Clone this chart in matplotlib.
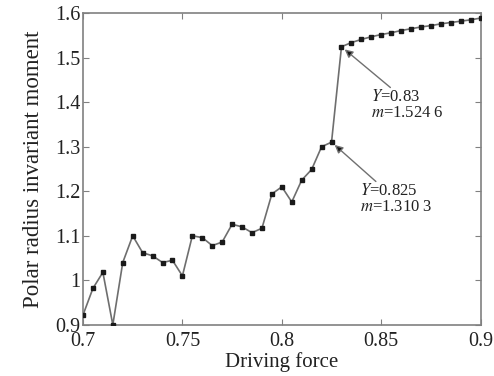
import matplotlib
matplotlib.use('Agg')
import matplotlib.pyplot as plt

# driving force (x) and polar radius invariant moment (y)
force = [0.700, 0.705, 0.710, 0.715, 0.720, 0.725, 0.730, 0.735, 0.740, 0.745,
         0.750, 0.755, 0.760, 0.765, 0.770, 0.775, 0.780, 0.785, 0.790, 0.795,
         0.800, 0.805, 0.810, 0.815, 0.820, 0.825, 0.830, 0.835, 0.840, 0.845,
         0.850, 0.855, 0.860, 0.865, 0.870, 0.875, 0.880, 0.885, 0.890, 0.895,
         0.900]
moment = [0.922, 0.982, 1.018, 0.900, 1.040, 1.100, 1.062, 1.055, 1.040, 1.045,
          1.010, 1.100, 1.096, 1.078, 1.086, 1.126, 1.120, 1.107, 1.117, 1.194,
          1.210, 1.176, 1.225, 1.249, 1.300, 1.3103, 1.5246, 1.534, 1.541, 1.547,
          1.552, 1.556, 1.561, 1.565, 1.569, 1.572, 1.576, 1.579, 1.582, 1.585,
          1.589]

xticks = [0.7, 0.75, 0.8, 0.85, 0.9]
xticklabels = ['0.7', '0.75', '0.8', '0.85', '0.9']
yticks = [0.9, 1.0, 1.1, 1.2, 1.3, 1.4, 1.5, 1.6]
yticklabels = ['0.9', '1', '1.1', '1.2', '1.3', '1.4', '1.5', '1.6']

plt.rcParams['font.family'] = ['Liberation Serif', 'DejaVu Serif']
plt.rcParams['mathtext.fontset'] = 'stix'

fig = plt.figure(figsize=(4.94, 3.76), dpi=100)
ax = fig.add_axes([0.168, 0.136, 0.805, 0.829])

ax.plot(force, moment, '-', color='#6e6e6e', lw=1.2, zorder=2)
ax.plot(force, moment, 's', color='#1a1a1a', ms=3.0, mec='#1a1a1a', zorder=3)

ax.set_xlim(0.7, 0.9)
ax.set_ylim(0.9, 1.6)
ax.set_xticks(xticks)
ax.set_xticklabels(xticklabels)
ax.set_yticks(yticks)
ax.set_yticklabels(yticklabels)
ax.tick_params(direction='in', top=True, right=True, length=4, width=0.8,
               color='#808080', labelsize=14.5, labelcolor='#222222')
ax.tick_params(axis='x', pad=5)
ax.tick_params(axis='y', pad=2)
for s in ax.spines.values():
    s.set_color('#808080')
    s.set_linewidth(1.2)

ax.set_xlabel('Driving force', fontsize=15, color='#222222', labelpad=1)
ax.set_ylabel('Polar radius invariant moment', fontsize=16.5, color='#222222', labelpad=8)

arrow = dict(arrowstyle='-|>', ec='#707070', fc='#111111', lw=1.0,
             mutation_scale=12, shrinkA=0, shrinkB=3)
ax.annotate('', xy=(force[26], moment[26]), xytext=(0.8546, 1.433),
            arrowprops=arrow)
ax.text(0.8446, 1.430, '$Y$=0.83\n$m$=1.524 6', fontsize=12, va='top',
        ha='left', color='#222222', linespacing=1.0)
ax.annotate('', xy=(force[25], moment[25]), xytext=(0.8473, 1.222),
            arrowprops=arrow)
ax.text(0.8392, 1.219, '$Y$=0.825\n$m$=1.310 3', fontsize=12, va='top',
        ha='left', color='#222222', linespacing=1.0)

fig.savefig('out.png', dpi=100, facecolor='white')
